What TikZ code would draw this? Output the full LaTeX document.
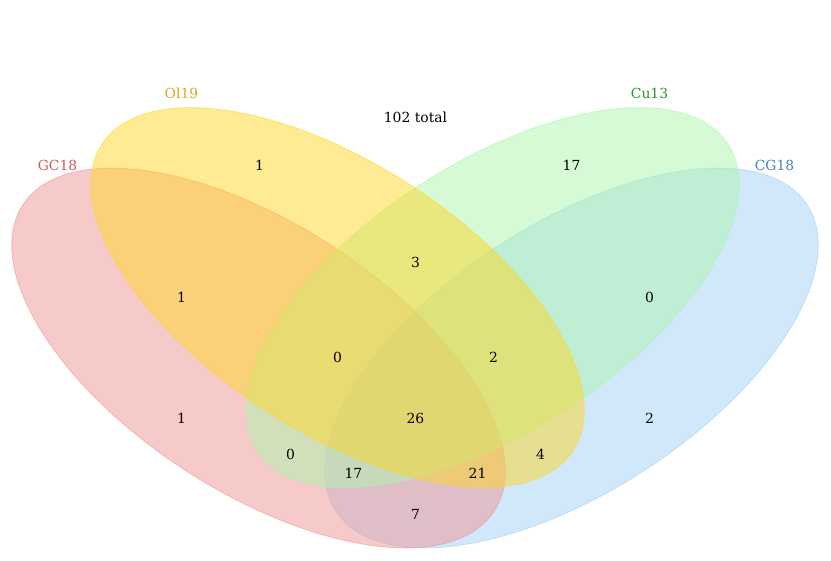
\documentclass[tikz,border=0pt]{standalone}
\usepackage{fontspec}
\setmainfont{DejaVu Serif}
\usetikzlibrary{shapes.geometric}
\definecolor{cred}{RGB}{239,149,149}
\definecolor{cyel}{RGB}{253,215,41}
\definecolor{cgrn}{RGB}{173,245,173}
\definecolor{cblu}{RGB}{161,209,245}
\definecolor{tred}{RGB}{205,90,90}
\definecolor{tyel}{RGB}{218,165,32}
\definecolor{tgrn}{RGB}{40,150,40}
\definecolor{tblu}{RGB}{70,130,190}
\begin{document}
\begin{tikzpicture}[x=1pt,y=-1pt,
  setshape/.style={ellipse,inner sep=0pt,outer sep=0pt,minimum width=562pt,minimum height=268pt,
    fill=#1,fill opacity=0.5,draw=#1,draw opacity=0.6,line width=0.8pt},
  num/.style={font=\fontsize{13.9}{16}\selectfont,text=black,inner sep=0pt},
  setname/.style={font=\fontsize{13.9}{16}\selectfont,text=#1,inner sep=0pt}]
\useasboundingbox (0,0) rectangle (831,561);
\node[setshape=cblu,rotate=33] (cg) at (571.5,358) {};
\node[setshape=cred,rotate=-33] (gc) at (258.5,358) {};
\node[setshape=cgrn,rotate=33] (cu) at (492.5,297.5) {};
\node[setshape=cyel,rotate=-33] (ol) at (337.5,297.5) {};
\node[setname=tred] (ngc) at (57.5,165) {GC18};
\node[setname=tyel] (nol) at (181.5,93) {Ol19};
\node[setname=tgrn] (ncu) at (649.5,93) {Cu13};
\node[setname=tblu] (ncg) at (774.5,165) {CG18};
\node[num] (tot) at (415.5,117) {102 total};
\node[num] (r0100) at (259.5,165) {1};
\node[num] (r0010) at (571.5,165) {17};
\node[num] (r0110) at (415.5,262) {3};
\node[num] (r1100) at (181.5,297) {1};
\node[num] (r0011) at (649.5,297) {0};
\node[num] (r1110) at (337.5,357) {0};
\node[num] (r0111) at (493.5,357) {2};
\node[num] (r1000) at (181.5,418) {1};
\node[num] (r1111) at (415.5,418) {26};
\node[num] (r0001) at (649.5,418) {2};
\node[num] (r1010) at (290.5,454) {0};
\node[num] (r0101) at (540.5,454) {4};
\node[num] (r1011) at (353.5,473) {17};
\node[num] (r1101) at (477.5,473) {21};
\node[num] (r1001) at (415.5,514) {7};
\end{tikzpicture}
\end{document}
